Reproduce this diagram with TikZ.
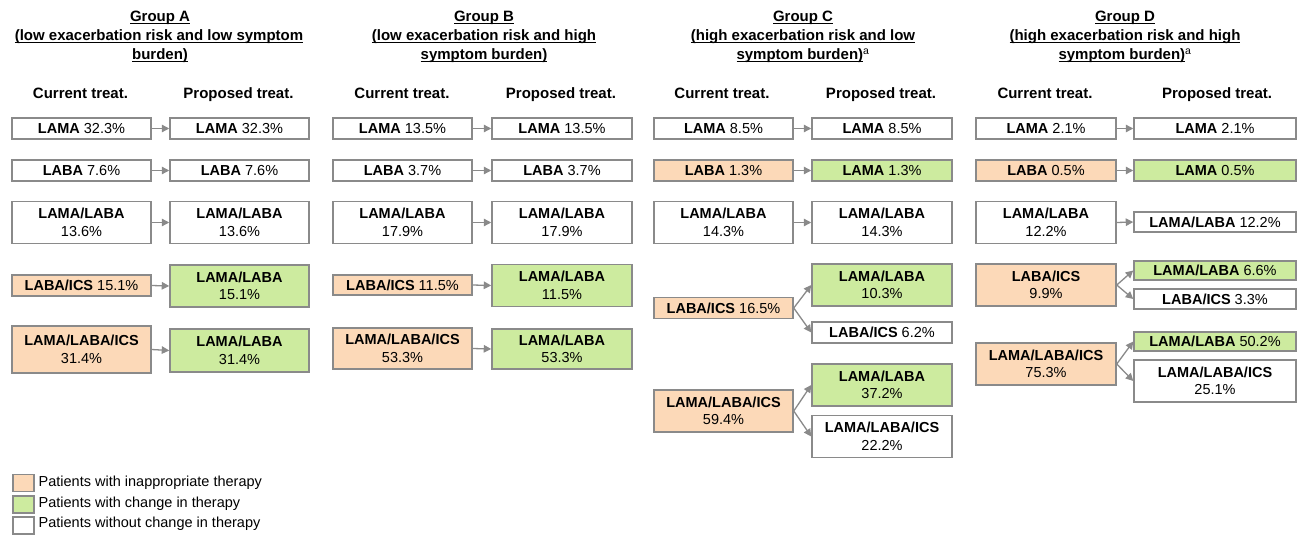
\documentclass[tikz,border=0pt]{standalone}
\usepackage{fontspec}
\setmainfont{Liberation Sans}
\usetikzlibrary{arrows.meta}
\definecolor{bordergray}{HTML}{8A8A8A}
\definecolor{peach}{HTML}{FCD9B8}
\definecolor{lgreen}{HTML}{CDEB9F}
\newcommand\ulin[1]{\setbox0\hbox{#1}\rlap{\rule[-2.6pt]{\wd0}{1.3pt}}\box0}
\begin{document}
\begin{tikzpicture}[x=1pt,y=-1pt,
 tbox/.style={draw=bordergray, line width=1.5pt, inner sep=0pt, align=center, font=\fontsize{14.5}{17.5}\selectfont, text=black},
 wbox/.style={tbox, fill=white},
 obox/.style={tbox, fill=peach},
 gbox/.style={tbox, fill=lgreen},
 sgl/.style={minimum height=21pt},
 dbl/.style={minimum height=42pt},
 conn/.style={draw=bordergray, line width=1.3pt, -{Triangle[length=7.5pt,width=7.5pt]}},
 hdr/.style={font=\bfseries\fontsize{15}{18}\selectfont, inner sep=0pt, anchor=base},
 ttl/.style={font=\bfseries\fontsize{15}{18}\selectfont, inner sep=0pt, anchor=base},
 legt/.style={font=\fontsize{14.5}{17}\selectfont, inner sep=0pt, anchor=west},
 sw/.style={draw=bordergray, line width=1.2pt, minimum width=21pt, minimum height=17pt, inner sep=0pt}]
\fill[white] (0,0) rectangle (1299,535);
\useasboundingbox (0,0) rectangle (1299,535);

% ---------- titles ----------
\node[ttl] (tA1) at (160,21.7) {\ulin{Group A}};
\node[ttl] (tA2) at (159,40.7) {\ulin{(low exacerbation risk and low symptom}};
\node[ttl] (tA3) at (160,59.3) {\ulin{burden)}};
\node[ttl] (tB1) at (484,21.7) {\ulin{Group B}};
\node[ttl] (tB2) at (484,40.7) {\ulin{(low exacerbation risk and high}};
\node[ttl] (tB3) at (484,59.3) {\ulin{symptom burden)}};
\node[ttl] (tC1) at (803,21.7) {\ulin{Group C}};
\node[ttl] (tC2) at (803,40.7) {\ulin{(high exacerbation risk and low}};
\node[ttl] (tC3) at (803,59.3) {\ulin{symptom burden)}\textsuperscript{\mdseries a}};
\node[ttl] (tD1) at (1125,21.7) {\ulin{Group D}};
\node[ttl] (tD2) at (1125,40.7) {\ulin{(high exacerbation risk and high}};
\node[ttl] (tD3) at (1125,59.3) {\ulin{symptom burden)}\textsuperscript{\mdseries a}};

% ---------- headers ----------
\node[hdr] (hAc) at (80.5,99) {Current treat.};
\node[hdr] (hAp) at (238.5,99) {Proposed treat.};
\node[hdr] (hBc) at (402,99) {Current treat.};
\node[hdr] (hBp) at (561,99) {Proposed treat.};
\node[hdr] (hCc) at (722,99) {Current treat.};
\node[hdr] (hCp) at (881,99) {Proposed treat.};
\node[hdr] (hDc) at (1045,99) {Current treat.};
\node[hdr] (hDp) at (1217,99) {Proposed treat.};

% ---------- Group A ----------
\node[wbox, sgl, minimum width=139pt] (A1c) at (81.5,128.5) {\textbf{LAMA} 32.3\%};
\node[wbox, sgl, minimum width=139pt] (A1p) at (239.5,128.5) {\textbf{LAMA} 32.3\%};
\node[wbox, sgl, minimum width=139pt] (A2c) at (81.5,170.5) {\textbf{LABA} 7.6\%};
\node[wbox, sgl, minimum width=139pt] (A2p) at (239.5,170.5) {\textbf{LABA} 7.6\%};
\node[wbox, dbl, minimum width=139pt] (A3c) at (81.5,222.5) {\textbf{LAMA/LABA}\\13.6\%};
\node[wbox, dbl, minimum width=139pt] (A3p) at (239.5,222.5) {\textbf{LAMA/LABA}\\13.6\%};
\node[obox, sgl, minimum width=139pt] (A4c) at (81.5,285.5) {\textbf{LABA/ICS} 15.1\%};
\node[gbox, dbl, minimum width=139pt] (A4p) at (239.5,286) {\textbf{LAMA/LABA}\\15.1\%};
\node[obox, minimum height=47pt, minimum width=139pt] (A5c) at (81.5,349.5) {\textbf{LAMA/LABA/ICS}\\31.4\%};
\node[gbox, minimum height=43pt, minimum width=139pt] (A5p) at (239.5,350.5) {\textbf{LAMA/LABA}\\31.4\%};

% ---------- Group B ----------
\node[wbox, sgl, minimum width=139pt] (B1c) at (402.5,128.5) {\textbf{LAMA} 13.5\%};
\node[wbox, sgl, minimum width=140pt] (B1p) at (562,128.5) {\textbf{LAMA} 13.5\%};
\node[wbox, sgl, minimum width=139pt] (B2c) at (402.5,170.5) {\textbf{LABA} 3.7\%};
\node[wbox, sgl, minimum width=140pt] (B2p) at (562,170.5) {\textbf{LABA} 3.7\%};
\node[wbox, dbl, minimum width=139pt] (B3c) at (402.5,222.5) {\textbf{LAMA/LABA}\\17.9\%};
\node[wbox, dbl, minimum width=140pt] (B3p) at (562,222.5) {\textbf{LAMA/LABA}\\17.9\%};
\node[obox, minimum height=20pt, minimum width=139pt] (B4c) at (402.5,285) {\textbf{LABA/ICS} 11.5\%};
\node[gbox, dbl, minimum width=140pt] (B4p) at (562,285.5) {\textbf{LAMA/LABA}\\11.5\%};
\node[obox, minimum height=41pt, minimum width=139pt] (B5c) at (402.5,348.5) {\textbf{LAMA/LABA/ICS}\\53.3\%};
\node[gbox, minimum height=40pt, minimum width=140pt] (B5p) at (562,349) {\textbf{LAMA/LABA}\\53.3\%};

% ---------- Group C ----------
\node[wbox, sgl, minimum width=139pt] (C1c) at (723.5,128.5) {\textbf{LAMA} 8.5\%};
\node[wbox, sgl, minimum width=140pt] (C1p) at (882,128.5) {\textbf{LAMA} 8.5\%};
\node[obox, sgl, minimum width=139pt] (C2c) at (723.5,170.5) {\textbf{LABA} 1.3\%};
\node[gbox, sgl, minimum width=140pt] (C2p) at (882,170.5) {\textbf{LAMA} 1.3\%};
\node[wbox, dbl, minimum width=139pt] (C3c) at (723.5,222.5) {\textbf{LAMA/LABA}\\14.3\%};
\node[wbox, dbl, minimum width=140pt] (C3p) at (882,222.5) {\textbf{LAMA/LABA}\\14.3\%};
\node[obox, sgl, minimum width=139pt] (C4c) at (723.5,308) {\textbf{LABA/ICS} 16.5\%};
\node[gbox, dbl, minimum width=140pt] (C4p) at (882,285) {\textbf{LAMA/LABA}\\10.3\%};
\node[wbox, sgl, minimum width=140pt] (C4q) at (882,332.5) {\textbf{LABA/ICS} 6.2\%};
\node[obox, dbl, minimum width=139pt] (C5c) at (723.5,411) {\textbf{LAMA/LABA/ICS}\\59.4\%};
\node[gbox, dbl, minimum width=140pt] (C5p) at (882,385) {\textbf{LAMA/LABA}\\37.2\%};
\node[wbox, dbl, minimum width=140pt] (C5q) at (882,436.5) {\textbf{LAMA/LABA/ICS}\\22.2\%};

% ---------- Group D ----------
\node[wbox, sgl, minimum width=140pt] (D1c) at (1046,128.5) {\textbf{LAMA} 2.1\%};
\node[wbox, sgl, minimum width=162pt] (D1p) at (1215,128.5) {\textbf{LAMA} 2.1\%};
\node[obox, sgl, minimum width=140pt] (D2c) at (1046,170.5) {\textbf{LABA} 0.5\%};
\node[gbox, sgl, minimum width=162pt] (D2p) at (1215,170.5) {\textbf{LAMA} 0.5\%};
\node[wbox, dbl, minimum width=140pt] (D3c) at (1046,222.5) {\textbf{LAMA/LABA}\\12.2\%};
\node[wbox, minimum height=20pt, minimum width=162pt] (D3p) at (1215,222) {\textbf{LAMA/LABA} 12.2\%};
\node[obox, dbl, minimum width=140pt] (D4c) at (1046,285) {\textbf{LABA/ICS}\\9.9\%};
\node[gbox, minimum height=19pt, minimum width=162pt] (D4p) at (1215,270.5) {\textbf{LAMA/LABA} 6.6\%};
\node[wbox, minimum height=20pt, minimum width=162pt] (D4q) at (1215,299) {\textbf{LABA/ICS} 3.3\%};
\node[obox, dbl, minimum width=140pt] (D5c) at (1046,364) {\textbf{LAMA/LABA/ICS}\\75.3\%};
\node[gbox, minimum height=19pt, minimum width=162pt] (D5p) at (1215,341.5) {\textbf{LAMA/LABA} 50.2\%};
\node[wbox, dbl, minimum width=162pt] (D5q) at (1215,381) {\textbf{LAMA/LABA/ICS}\\25.1\%};

% ---------- connectors ----------
\foreach \g in {A,B,C,D}{
  \foreach \r in {1,2,3}{
    \draw[conn] (\g\r c.east) -- (\g\r p.west);
  }
}
\draw[conn] (A4c.east) -- (A4p.west);
\draw[conn] (A5c.east) -- (A5p.west);
\draw[conn] (B4c.east) -- (B4p.west);
\draw[conn] (B5c.east) -- (B5p.west);
\draw[conn] (C4c.east) -- (C4p.west);
\draw[conn] (C4c.east) -- (C4q.west);
\draw[conn] (C5c.east) -- (C5p.west);
\draw[conn] (C5c.east) -- (C5q.west);
\draw[conn] (D4c.east) -- (D4p.west);
\draw[conn] (D4c.east) -- (D4q.west);
\draw[conn] (D5c.east) -- (D5p.west);
\draw[conn] (D5c.east) -- (D5q.west);

% ---------- legend ----------
\node[sw, fill=peach] (L1) at (23.5,483) {};
\node[sw, fill=lgreen] (L2) at (23.5,504.5) {};
\node[sw, fill=white] (L3) at (23.5,525.5) {};
\node[legt] (L1t) at (38.5,483) {Patients with inappropriate therapy};
\node[legt] (L2t) at (38.5,504) {Patients with change in therapy};
\node[legt] (L3t) at (38.5,524) {Patients without change in therapy};
\end{tikzpicture}
\end{document}
